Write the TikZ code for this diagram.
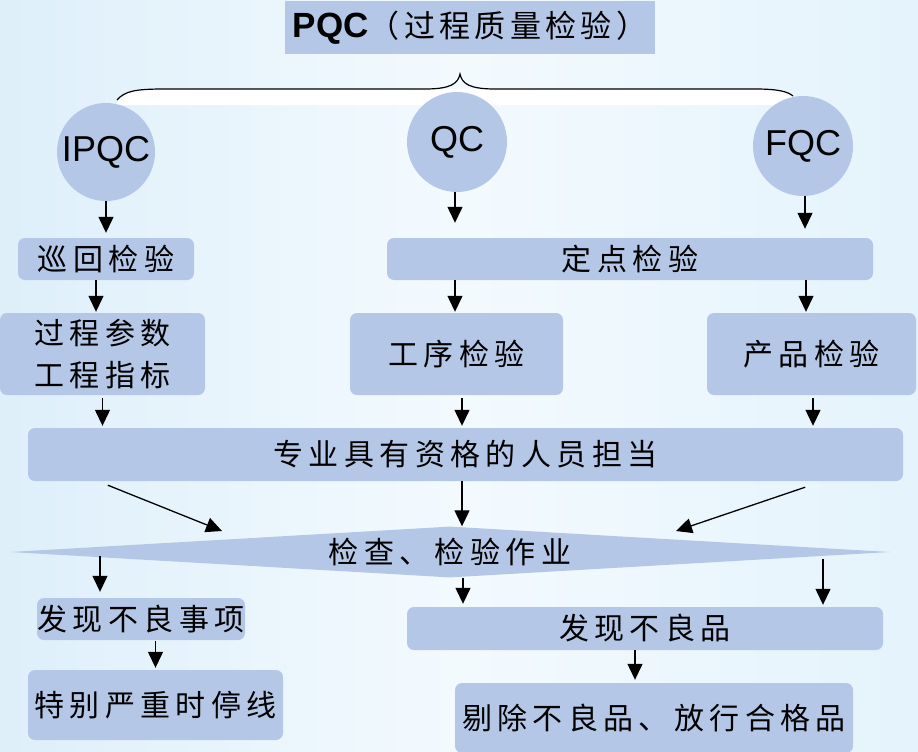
\documentclass[tikz,border=0pt]{standalone}
\usepackage{fontspec}
\setmainfont{Liberation Sans}
\newfontfamily\cjk[LetterSpace=18]{Noto Sans CJK SC}
\newfontfamily\cjkt[LetterSpace=14]{Noto Sans CJK SC}
\usetikzlibrary{shapes.geometric,arrows.meta,calc}
\definecolor{boxblue}{RGB}{180,199,231}
\definecolor{bgl}{RGB}{222,239,250}
\definecolor{bgm}{RGB}{243,250,254}
\definecolor{bgr}{RGB}{228,243,252}
\tikzset{
  box/.style={fill=boxblue, draw=none, rounded corners=7pt, inner sep=0pt, align=center, text=black,
    font=\fontsize{30}{42}\selectfont\cjk},
  circ/.style={circle, fill=boxblue, draw=none, inner sep=0pt, minimum size=100pt, font=\fontsize{36}{40}\selectfont},
  arr/.style={-{Triangle[length=16pt,width=15pt]}, line width=1.3pt, black},
}
\begin{document}
\begin{tikzpicture}[x=1pt,y=-1pt]
\useasboundingbox (0,0) rectangle (918,752);
\shade[left color=bgl, right color=bgr, middle color=bgm] (0,0) rectangle (918,752);

% title
\node[fill=boxblue, inner sep=0pt, minimum width=370pt, minimum height=53pt] (title) at (470,28)
  {\fontsize{35}{38}\selectfont\bfseries PQC\mdseries\fontsize{31}{38}\selectfont\cjkt （过程质量检验）};

% white band and brace
\fill[white] (117,100) .. controls (125,91) and (135,89) .. (165,89) -- (755,89)
  .. controls (780,89) and (788,92) .. (793,96) -- (793,105) -- (117,105) -- cycle;
\draw[line width=1.2pt] (117,100) .. controls (125,91) and (135,89) .. (165,89) -- (425,89)
  .. controls (452,89) and (458,83) .. (460,74) .. controls (462,83) and (468,89) .. (495,89)
  -- (755,89) .. controls (780,89) and (788,92) .. (793,96);

% circles
\node[circ, minimum size=98pt] (ipqc) at (106,152) {IPQC};
\node[circ] (qc) at (457,142) {QC};
\node[circ] (fqc) at (803,146) {FQC};

% row 2
\node[box, minimum width=176pt, minimum height=42pt] (xh) at (106,259) {巡回检验};
\node[box, minimum width=486pt, minimum height=42pt] (dd) at (630,259) {定点检验};

% row 3
\node[box, minimum width=205pt, minimum height=82pt] (gc) at (102.5,354) {过程参数\\ 工程指标};
\node[box, minimum width=213pt, minimum height=82pt] (gx) at (456.5,354) {工序检验};
\node[box, minimum width=209pt, minimum height=82pt] (cp) at (811.5,354) {产品检验};

% row 4
\node[box, minimum width=875pt, minimum height=53pt] (zy) at (465.5,454.5) {专业具有资格的人员担当};

% diamond
\node[shape=diamond, fill=boxblue, draw=none, inner sep=0pt, shape aspect=17,
      minimum width=880pt, minimum height=51pt, font=\fontsize{30}{42}\selectfont\cjk] (dia) at (450,552) {检查、检验作业};

% lower boxes
\node[box, minimum width=208pt, minimum height=42pt] (fx1) at (141,619) {发现不良事项};
\node[box, minimum width=255pt, minimum height=70pt] (stop) at (155.5,705) {特别严重时停线};
\node[box, minimum width=476pt, minimum height=43pt] (fx2) at (645,628.5) {发现不良品};
\node[box, minimum width=398pt, minimum height=70pt] (tc) at (654,718) {剔除不良品、放行合格品};

% arrows
\draw[arr, shorten >=5pt] (ipqc.south) -- (ipqc.south |- xh.north);
\draw[arr, shorten >=15pt] ([xshift=-2pt]qc.south) -- ([xshift=-2pt]qc.south |- dd.north);
\draw[arr, shorten >=9pt] ([xshift=2pt]fqc.south) -- ([xshift=2pt]fqc.south |- dd.north);
\draw[arr, shorten >=1pt] ([xshift=-10pt]xh.south) -- ([xshift=-10pt]xh.south |- gc.north);
\draw[arr, shorten >=1pt] ([xshift=-1.5pt]gx.north |- dd.south) -- ([xshift=-1.5pt]gx.north);
\draw[arr, shorten >=1pt] ([xshift=-5.5pt]cp.north |- dd.south) -- ([xshift=-5.5pt]cp.north);
\draw[arr, shorten <=3pt, shorten >=2pt] (gc.south) -- (gc.south |- zy.north);
\draw[arr, shorten <=3pt, shorten >=2pt] ([xshift=5.5pt]gx.south) -- ([xshift=5.5pt]gx.south |- zy.north);
\draw[arr, shorten <=3pt, shorten >=2pt] ([xshift=1.5pt]cp.south) -- ([xshift=1.5pt]cp.south |- zy.north);

\coordinate (t1) at (222,531);
\coordinate (t3) at (676,531);
\draw[arr] ($(zy.south west)+(80,4)$) -- (t1);
\draw[arr] ([xshift=-3.5pt]zy.south) -- ([xshift=-3.5pt]zy.south |- dia.north);
\draw[arr] ($(zy.south east)+(-98,6)$) -- (t3);

\coordinate (d1) at (100,556);
\coordinate (d3) at (823,559);
\draw[arr, shorten >=6pt] (d1) -- (d1 |- fx1.north);
\draw[arr, shorten >=3pt] ([xshift=13pt]dia.south) -- ([xshift=13pt]dia.south |- fx2.north);
\draw[arr, shorten >=2pt] (d3) -- (d3 |- fx2.north);
\draw[arr, shorten <=1pt, shorten >=2pt] (fx1.south -| stop.north) -- (stop.north);
\draw[arr, shorten >=3pt] ([xshift=-10pt]fx2.south) -- ([xshift=-10pt]fx2.south |- tc.north);
\end{tikzpicture}
\end{document}
